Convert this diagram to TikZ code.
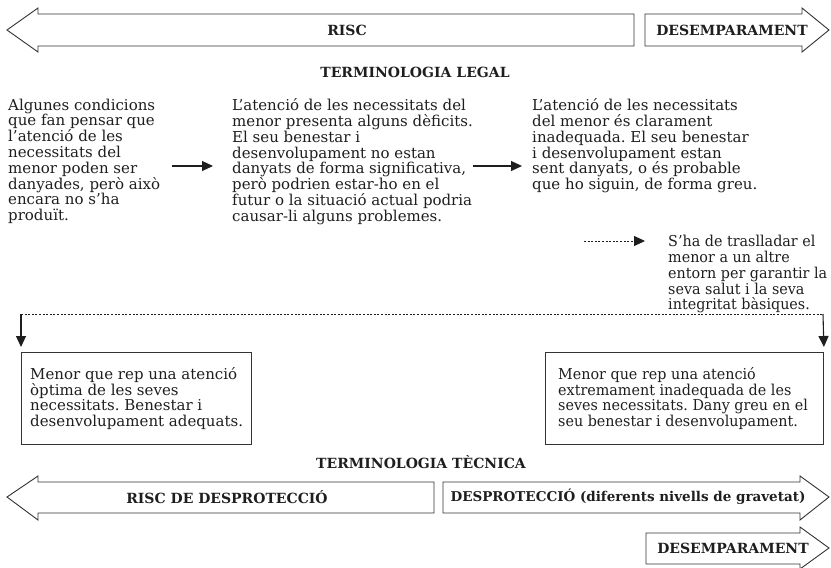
\documentclass[tikz,border=0pt]{standalone}
\usepackage{fontspec}
\setmainfont{DejaVu Serif}
\newfontfamily\narrowbody[FakeStretch=0.955]{DejaVu Serif}
\usetikzlibrary{arrows.meta}
\frenchspacing
\definecolor{ink}{HTML}{1E1E1E}
\definecolor{edge}{HTML}{333333}
\tikzset{
  bigarrow/.style={draw=edge, line width=0.9pt, fill=white},
  lab/.style={font=\bfseries\fontsize{14}{16}\selectfont, text=ink, inner sep=0pt},
  body/.style={font=\frenchspacing\fontsize{15}{15.8}\selectfont, text=ink, align=left, inner sep=0pt, anchor=north west},
  narrow/.style={font=\frenchspacing\narrowbody\fontsize{15}{15.8}\selectfont},
  tip/.style={-{Triangle[length=11pt,width=10pt]}},
  conn/.style={draw=ink, line width=1.1pt, tip},
  dotconn/.style={draw=ink, line width=0.9pt, dash pattern=on 2pt off 1.6pt},
  boxe/.style={draw=edge, line width=1pt, anchor=north west, inner sep=0pt, minimum height=92pt}
}
\begin{document}
\begin{tikzpicture}[x=1pt,y=-1pt]
\useasboundingbox (0,0) rectangle (831,568);
% top arrows
\draw[bigarrow] (7,30) -- (38,8) -- (38,14) -- (634,14) -- (634,46) -- (38,46) -- (38,52) -- cycle;
\draw[bigarrow] (645,14) -- (802,14) -- (802,8) -- (829,30) -- (802,52) -- (802,46) -- (645,46) -- cycle;
\node[lab] (risc) at (347,30) {RISC};
\node[lab] (desa) at (732,30) {DESEMPARAMENT};
\node[lab] (tlegal) at (415,72) {TERMINOLOGIA LEGAL};
% texts
\node[body] (t1) at (8,98.5) {Algunes condicions\\que fan pensar que\\l’atenció de les\\necessitats del\\menor poden ser\\danyades, però això\\encara no s’ha\\produït.};
\node[body] (t2) at (232,98.5) {L’atenció de les necessitats del\\menor presenta alguns dèficits.\\El seu benestar i\\desenvolupament no estan\\danyats de forma significativa,\\però podrien estar-ho en el\\futur o la situació actual podria\\causar-li alguns problemes.};
\node[body] (t3) at (532,98.5) {L’atenció de les necessitats\\del menor és clarament\\inadequada. El seu benestar\\i desenvolupament estan\\sent danyats, o és probable\\que ho siguin, de forma greu.};
\node[body, narrow] (t4) at (668,235) {S’ha de traslladar el\\menor a un altre\\entorn per garantir la\\seva salut i la seva\\integritat bàsiques.};
\coordinate (a1s) at (172,166); \coordinate (a1e) at (213,166);
\coordinate (a2s) at (473,166); \coordinate (a2e) at (522,166);
\draw[conn] (a1s) -- (a1e);
\draw[conn] (a2s) -- (a2e);
\coordinate (a3s) at (584,241); \coordinate (a3e) at (645,241);
\draw[dotconn, tip] (a3s) -- (a3e);
% boxes
\node[boxe, minimum width=230pt] (b1) at (21,352) {};
\node[boxe, minimum width=278pt] (b2) at (545,352) {};
\node[body] (bt1) at (30,367) {Menor que rep una atenció\\òptima de les seves\\necessitats. Benestar i\\desenvolupament adequats.};
\node[body, narrow] (bt2) at (558,367) {Menor que rep una atenció\\extremament inadequada de les\\seves necessitats. Dany greu en el\\seu benestar i desenvolupament.};
% dotted split connector
\coordinate (dl) at (21,314); \coordinate (dr) at (823,314);
\draw[dotconn] (dl) -- (dr);
\draw[conn, shorten >=5pt] (dl) -- (b1.north west);
\draw[conn, shorten >=5pt] (dr) -- (b2.north east);
\node[lab] (ttec) at (421,462) {TERMINOLOGIA TÈCNICA};
% bottom arrows
\draw[bigarrow] (7,497) -- (38,476) -- (38,482) -- (434,482) -- (434,513) -- (38,513) -- (38,520) -- cycle;
\draw[bigarrow] (443,482) -- (800,482) -- (800,476) -- (829,497) -- (800,520) -- (800,513) -- (443,513) -- cycle;
\draw[bigarrow] (646,533) -- (800,533) -- (800,527) -- (829,548) -- (800,569) -- (800,564) -- (646,564) -- cycle;
\node[lab] (rdes) at (227,497) {RISC DE DESPROTECCIÓ};
\node[lab, font=\bfseries\fontsize{13.5}{16}\selectfont] (des) at (628,497) {DESPROTECCIÓ (diferents nivells de gravetat)};
\node[lab] (desb) at (733,548) {DESEMPARAMENT};
\end{tikzpicture}
\end{document}
